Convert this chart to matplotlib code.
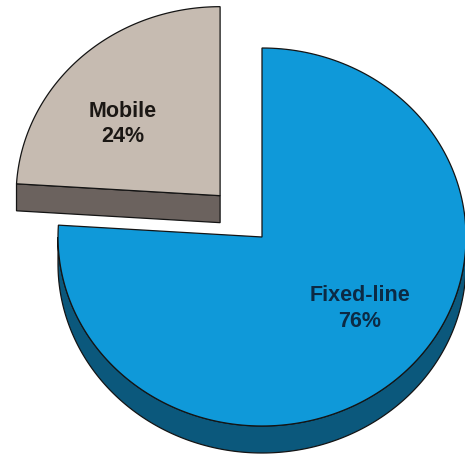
import numpy as np
import matplotlib.pyplot as plt
from matplotlib.patches import Polygon

labels = ['Fixed-line', 'Mobile']
shares = [76, 24]
explode = [0.0, 0.30]

top_colors = ['#0f99d9', '#c6bbb1']
side_colors = ['#0b587c', '#6b625e']
text_colors = ['#0c2a44', '#1b1714']
edge = '#141414'

# disc geometry in pixel space
cx, cy = 262, 237
rx, ry = 204, 189
depth = 27

fig = plt.figure(figsize=(4.65, 4.55), dpi=100)
ax = fig.add_axes([0, 0, 1, 1])
ax.set_xlim(0, 465)
ax.set_ylim(455, 0)
ax.axis('off')


def arc(ox, oy, t0, t1, n=200):
    t = np.radians(np.linspace(t0, t1, n))
    return np.column_stack([ox + rx * np.cos(t), oy - ry * np.sin(t)])


def front_ranges(a0, a1):
    # parts of the arc [a1, a0] lying on the lower (front) half of the disc
    lo, hi = min(a0, a1), max(a0, a1)
    out = []
    for k in range(-2, 2):
        s, e = 180 + 360 * k, 360 + 360 * k
        s, e = max(s, lo), min(e, hi)
        if e > s:
            out.append((e, s))
    return out


slices = []
a0 = 90.0
for lab, v, ex, tc, sc, fc in zip(labels, shares, explode, top_colors, side_colors, text_colors):
    a1 = a0 - 360.0 * v / sum(shares)
    mid = np.radians((a0 + a1) / 2)
    ox = cx + ex * rx * np.cos(mid)
    oy = cy - ex * ry * np.sin(mid)
    slices.append(dict(label=lab, value=v, a0=a0, a1=a1, mid=mid, ox=ox, oy=oy,
                       top=tc, side=sc, text=fc))
    a0 = a1

# paint back-most slices first
for s in sorted(slices, key=lambda d: d['oy']):
    ox, oy = s['ox'], s['oy']

    # outer rim
    for e, b in front_ranges(s['a0'], s['a1']):
        rim = arc(ox, oy, e, b)
        low = rim[::-1] + [0, depth]
        ax.add_patch(Polygon(np.vstack([rim, low]), closed=True,
                             facecolor=s['side'], edgecolor=edge, lw=0.9))

    # cut faces along the radial edges
    for ang, sign in ((s['a0'], -1), (s['a1'], 1)):
        c = np.cos(np.radians(ang))
        if sign * c > 1e-6:
            p = arc(ox, oy, ang, ang, 2)[0]
            face = np.array([[ox, oy], p, p + [0, depth], [ox, oy + depth]])
            ax.add_patch(Polygon(face, closed=True, facecolor=s['side'],
                                 edgecolor=edge, lw=0.9))

    # top face
    pts = np.vstack([[ox, oy], arc(ox, oy, s['a0'], s['a1'])])
    ax.add_patch(Polygon(pts, closed=True, facecolor=s['top'],
                         edgecolor=edge, lw=0.9))

    lx = ox + 0.70 * rx * np.cos(s['mid'])
    ly = oy - 0.52 * ry * np.sin(s['mid'])
    ax.text(lx, ly, '%s\n%d%%' % (s['label'], s['value']), ha='center', va='center',
            fontsize=15.5, fontweight='bold', family='Liberation Sans',
            color=s['text'], linespacing=1.3)

fig.savefig('out.png', dpi=100)
